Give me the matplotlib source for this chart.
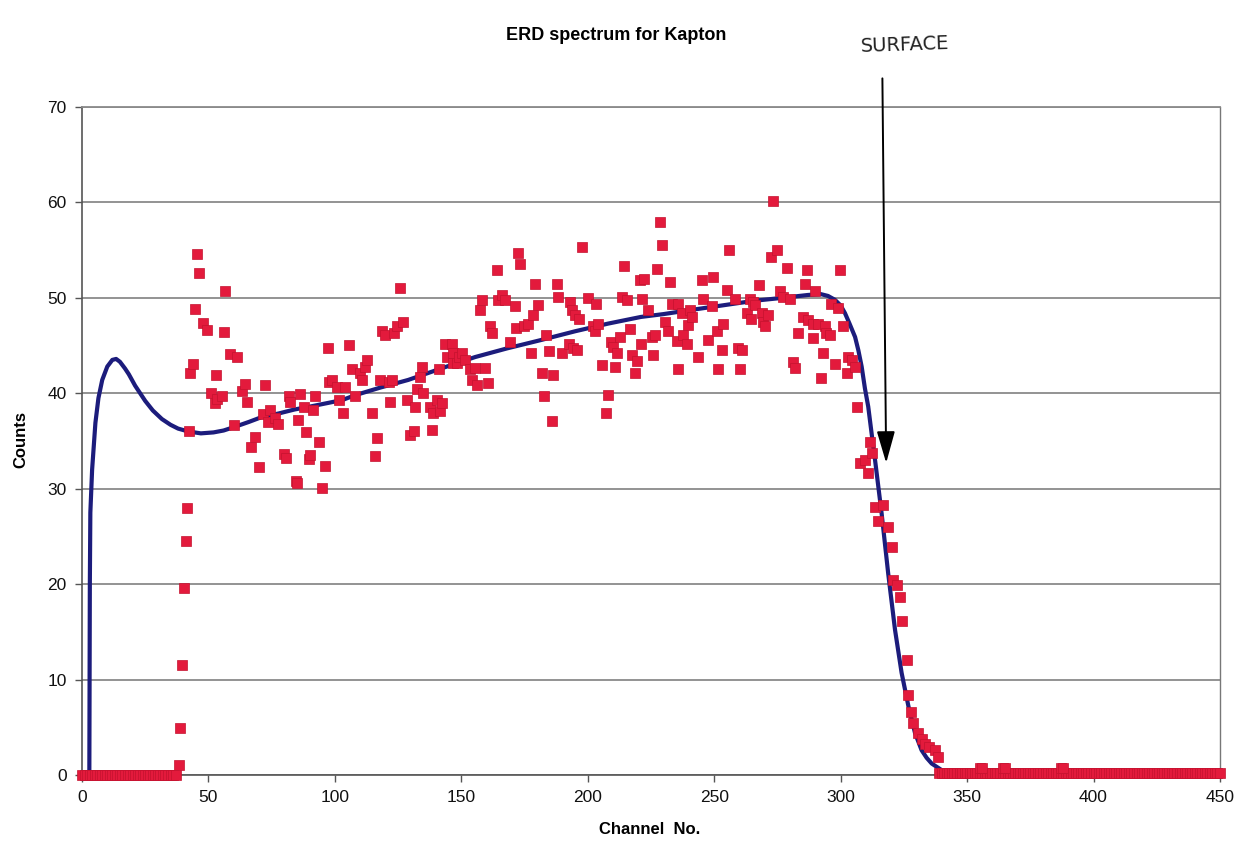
# ERD spectrum for Kapton - counts vs channel, with fitted curve and a "SURFACE" marker
import matplotlib
matplotlib.use("Agg")
import matplotlib.pyplot as plt

plt.rcParams["font.family"] = ["Liberation Sans", "DejaVu Sans"]

# --- measured points (read off the scan) ---
# flat zero run before the detector edge
base_ch = list(range(0, 38))
base_counts = [0] * len(base_ch)

# leading edge
rise_ch = [38.2, 38.9, 39.5, 40.2, 41.1, 41.5, 42.2]
rise_counts = [1.0, 4.9, 11.5, 19.6, 24.5, 28.0, 36.1]

# plateau region
body_ch = [42.8, 44.0, 44.8, 45.5, 46.4, 48.0, 49.4, 51.0, 52.4, 53.0, 53.5, 55.3, 56.0, 56.6,
           58.6, 60.0, 61.3, 63.2, 64.3, 65.2, 66.9, 68.5, 70.1, 71.6, 72.2, 73.5, 74.2, 76.2,
           77.7, 79.7, 80.6, 81.7, 82.3, 84.6, 85.0, 85.4, 86.3, 87.6, 88.7, 89.6, 90.2, 91.2,
           92.2, 93.8, 94.9, 95.9, 97.2, 97.5, 98.8, 100.8, 101.5, 103.4, 104.0, 105.4, 106.7,
           108.0, 110.0, 110.7, 112.0, 112.6, 114.6, 115.7, 116.6, 117.9, 118.6, 119.9, 121.2,
           121.9, 122.5, 123.2, 124.5, 125.8, 127.1, 128.5, 129.8, 131.1, 131.7, 132.4, 133.7,
           134.4, 135.0, 137.7, 138.3, 138.8, 140.3, 141.0, 141.5, 142.3, 143.6, 144.3, 146.2,
           146.6, 146.9, 148.2, 148.9, 150.2, 151.5, 153.5, 154.2, 155.5, 156.0, 157.4, 158.1,
           159.4, 160.7, 161.4, 162.0, 164.0, 164.5, 166.0, 167.3, 169.3, 171.3, 171.8, 172.3,
           173.2, 174.6, 176.5, 177.5, 178.5, 179.2, 180.5, 181.8, 182.5, 183.4, 184.5, 185.8,
           186.4, 187.7, 188.4, 189.7, 192.4, 193.0, 193.7, 194.2, 195.0, 195.7, 196.6, 197.9,
           200.0, 202.2, 202.9, 203.2, 204.2, 205.5, 207.1, 207.9, 209.2, 210.1, 210.8, 211.5,
           212.8, 213.4, 214.5, 215.4, 216.7, 217.4, 218.7, 219.4, 220.7, 221.1, 221.3, 222.4,
           224.0, 225.3, 225.9, 226.6, 227.3, 228.6, 229.2, 230.6, 231.9, 232.5, 233.2, 235.2,
           235.5, 235.8, 237.2, 237.8, 239.1, 239.8, 240.4, 241.1, 243.7, 245.0, 245.5, 247.7,
           249.0, 249.6, 251.0, 251.6, 253.0, 253.6, 255.0, 255.9, 258.2, 259.5, 260.2, 260.9,
           262.8, 264.2, 264.6, 265.5, 266.1, 267.8, 268.8, 269.4, 270.1, 271.4, 272.5, 273.4,
           274.7, 276.0, 277.3, 278.7, 280.0, 281.3, 282.0, 283.3, 285.2, 285.7, 286.6, 287.2,
           289.0, 289.2, 289.8, 291.2, 292.1, 293.1, 293.8, 294.3, 295.8, 296.3, 297.7, 299.1,
           299.7, 301.0, 302.4, 303.0, 304.3, 305.7]
body_counts = [42.1, 43.1, 48.8, 54.6, 52.6, 47.4, 46.6, 40.0, 39.0, 41.9, 39.4, 39.7, 46.4, 50.7,
               44.1, 36.7, 43.8, 40.2, 41.0, 39.1, 34.4, 35.4, 32.3, 37.8, 40.9, 37.0, 38.3, 37.4,
               36.8, 33.6, 33.2, 39.7, 39.1, 30.8, 30.6, 37.2, 39.9, 38.6, 35.9, 33.1, 33.5, 38.2,
               39.7, 34.9, 30.1, 32.4, 44.7, 41.2, 41.4, 40.7, 39.3, 37.9, 40.7, 45.1, 42.5,
               39.7, 42.1, 41.4, 42.8, 43.5, 37.9, 33.4, 35.3, 41.4, 46.5, 46.1, 41.2,
               39.1, 41.4, 46.3, 47.0, 51.0, 47.5, 39.3, 35.6, 36.0, 38.6, 40.4, 41.7,
               42.8, 40.0, 38.6, 36.2, 37.9, 39.3, 42.5, 38.1, 39.0, 45.2, 43.8, 45.2,
               43.2, 44.2, 43.2, 43.8, 44.2, 43.5, 42.5, 41.4, 42.6, 40.9, 48.7, 49.8,
               42.6, 41.1, 47.0, 46.3, 52.9, 49.8, 50.3, 49.8, 45.4, 49.1, 46.8, 54.7,
               53.5, 47.0, 47.3, 44.2, 48.2, 51.4, 49.3, 42.1, 39.7, 46.1, 44.4, 37.1,
               41.9, 51.4, 50.1, 44.2, 45.2, 49.6, 48.7, 44.7, 48.2, 44.5, 47.8, 55.3,
               50.0, 47.0, 46.5, 49.4, 47.3, 43.0, 37.9, 39.8, 45.4, 44.9, 42.8, 44.2,
               45.9, 50.1, 53.3, 49.8, 46.7, 44.0, 42.1, 43.4, 51.9, 45.2, 49.9, 52.0,
               48.7, 45.9, 44.0, 46.1, 53.0, 58.0, 55.5, 47.5, 46.5, 51.7, 49.4, 45.5,
               42.5, 49.4, 48.4, 46.1, 45.2, 47.2, 48.7, 48.0, 43.8, 51.9, 49.9, 45.6,
               49.1, 52.2, 46.5, 42.5, 44.5, 47.3, 50.8, 55.0, 49.9, 44.7, 42.5, 44.5,
               48.4, 49.9, 47.8, 49.6, 49.3, 51.3, 48.4, 47.5, 47.0, 48.2, 54.3, 60.1,
               55.0, 50.7, 50.1, 53.1, 49.9, 43.3, 42.6, 46.3, 48.0, 51.4, 52.9, 47.7,
               45.8, 47.3, 50.7, 47.3, 41.6, 44.2, 47.0, 46.3, 46.1, 49.4, 43.1, 48.9,
               52.9, 47.0, 42.1, 43.8, 43.5, 42.8]

# falling (surface) edge
fall_ch = [306.3, 307.6, 309.6, 310.9, 311.6, 312.3, 313.6, 314.9, 316.9, 318.8, 320.2, 320.8,
           322.1, 323.4, 324.1, 326.1, 326.8, 328.0, 328.7, 330.7, 332.0, 333.3, 335.0, 337.3,
           338.6]
fall_counts = [38.6, 32.7, 33.0, 31.6, 34.9, 33.7, 28.1, 26.6, 28.3, 26.0, 23.9, 20.4,
               19.9, 18.7, 16.1, 12.1, 8.4, 6.6, 5.4, 4.4, 3.8, 3.3, 2.9, 2.6,
               1.9]

# near-zero tail after the edge, plus the few single-count bumps
tail_ch = list(range(339, 451))
tail_counts = [0.2] * len(tail_ch)
bump_ch = [355, 356, 364, 365, 387, 388]
bump_counts = [0.7, 0.7, 0.7, 0.7, 0.7, 0.7]

# --- fitted curve ---
fit_ch = [0, 2.9, 3.1, 3.3, 4.0, 5.3, 6.5, 8.0, 10.0, 12.0, 13.5, 15.0, 17.0, 18.5, 21.0,
          25.0, 28.0, 31.6, 35.0, 38.0, 42.0, 47.0, 52.0, 56.0, 60.6, 66.0, 71.0, 78.0,
          84.0, 90.0, 97.5, 103.0, 108.0, 118.0, 129.0, 142.0, 155.5, 168.0, 181.8, 195.0,
          208.0, 221.0, 230.0, 240.0, 253.0, 266.0, 277.0, 287.0, 292.0, 295.0, 297.7,
          300.0, 301.7, 303.5, 305.7, 307.0, 308.3, 309.6, 310.9, 312.9, 313.6, 316.2,
          318.8, 321.5, 324.1, 326.8, 329.4, 332.0, 334.0, 336.0, 340.0]
fit_counts = [0, 0, 20.0, 27.5, 32.0, 36.9, 39.5, 41.4, 42.8, 43.5, 43.6, 43.3, 42.6, 42.0, 40.8,
              39.2, 38.2, 37.3, 36.7, 36.3, 36.0, 35.8, 35.9, 36.1, 36.5, 37.0, 37.5, 37.9,
              38.3, 38.6, 39.0, 39.3, 39.8, 40.6, 41.4, 42.6, 43.8, 44.7, 45.6, 46.5,
              47.3, 48.0, 48.3, 48.7, 49.2, 49.7, 50.0, 50.3, 50.4, 50.2, 49.8,
              49.2, 48.4, 47.3, 45.9, 44.5, 42.8, 40.5, 38.6, 34.4, 33.0, 27.4,
              21.1, 15.2, 10.7, 7.2, 4.4, 2.6, 1.8, 1.2, 0.5]

x_ticks = [0, 50, 100, 150, 200, 250, 300, 350, 400, 450]
y_ticks = [0, 10, 20, 30, 40, 50, 60, 70]

RED = "#e31a3c"
NAVY = "#1c1c7c"
GRID = "#8a8a8a"

W, H = 1260, 852
fig = plt.figure(figsize=(W / 100, H / 100), dpi=100)
ax = fig.add_axes([82 / W, 1 - 775 / H, (1220 - 82) / W, (775 - 107) / H])

ax.plot(fit_ch, fit_counts, color=NAVY, lw=3.0, zorder=3, solid_capstyle="round")

for xs, ys in [(base_ch, base_counts), (rise_ch, rise_counts), (body_ch, body_counts),
               (fall_ch, fall_counts), (tail_ch, tail_counts), (bump_ch, bump_counts)]:
    ax.plot(xs, ys, ls="none", marker="s", ms=6.8, mfc=RED, mec="#c4122f", mew=0.5,
            zorder=4, clip_on=False)

ax.set_xlim(0, 450)
ax.set_ylim(0, 70)
ax.set_xticks(x_ticks)
ax.set_yticks(y_ticks)
ax.tick_params(direction="out", length=5, width=1, color="#555555", labelsize=12.5,
               labelcolor="#111111", pad=6)
ax.yaxis.grid(True, color=GRID, lw=1.3)
ax.set_axisbelow(True)
for side in ["left", "bottom"]:
    ax.spines[side].set_color("#555555")
    ax.spines[side].set_linewidth(1.2)
ax.spines["right"].set_color("#777777")
ax.spines["right"].set_linewidth(1.0)
ax.spines["top"].set_color(GRID)
ax.spines["top"].set_linewidth(1.3)

fig.text(616 / W, 1 - 36 / H, "ERD spectrum for Kapton", ha="center", va="center",
         fontsize=13, fontweight="bold")
fig.text(650 / W, 1 - 830 / H, "Channel  No.", ha="center", va="center",
         fontsize=12, fontweight="bold")
fig.text(21 / W, 1 - 440 / H, "Counts", ha="center", va="center", rotation=90,
         fontsize=12, fontweight="bold")

# hand-written annotation
fig.text(905 / W, 1 - 45 / H, "SURFACE", ha="center", va="center", fontsize=14,
         family="DejaVu Sans", color="#222222", rotation=2)
ax.annotate("", xy=(318.0, 32.7), xytext=(316.5, 73.0), annotation_clip=False,
            arrowprops=dict(arrowstyle="-|>,head_length=0.7,head_width=0.2", lw=1.4,
                            color="black", mutation_scale=28, shrinkA=0, shrinkB=0))

fig.savefig("out.png", dpi=100, facecolor="white")
